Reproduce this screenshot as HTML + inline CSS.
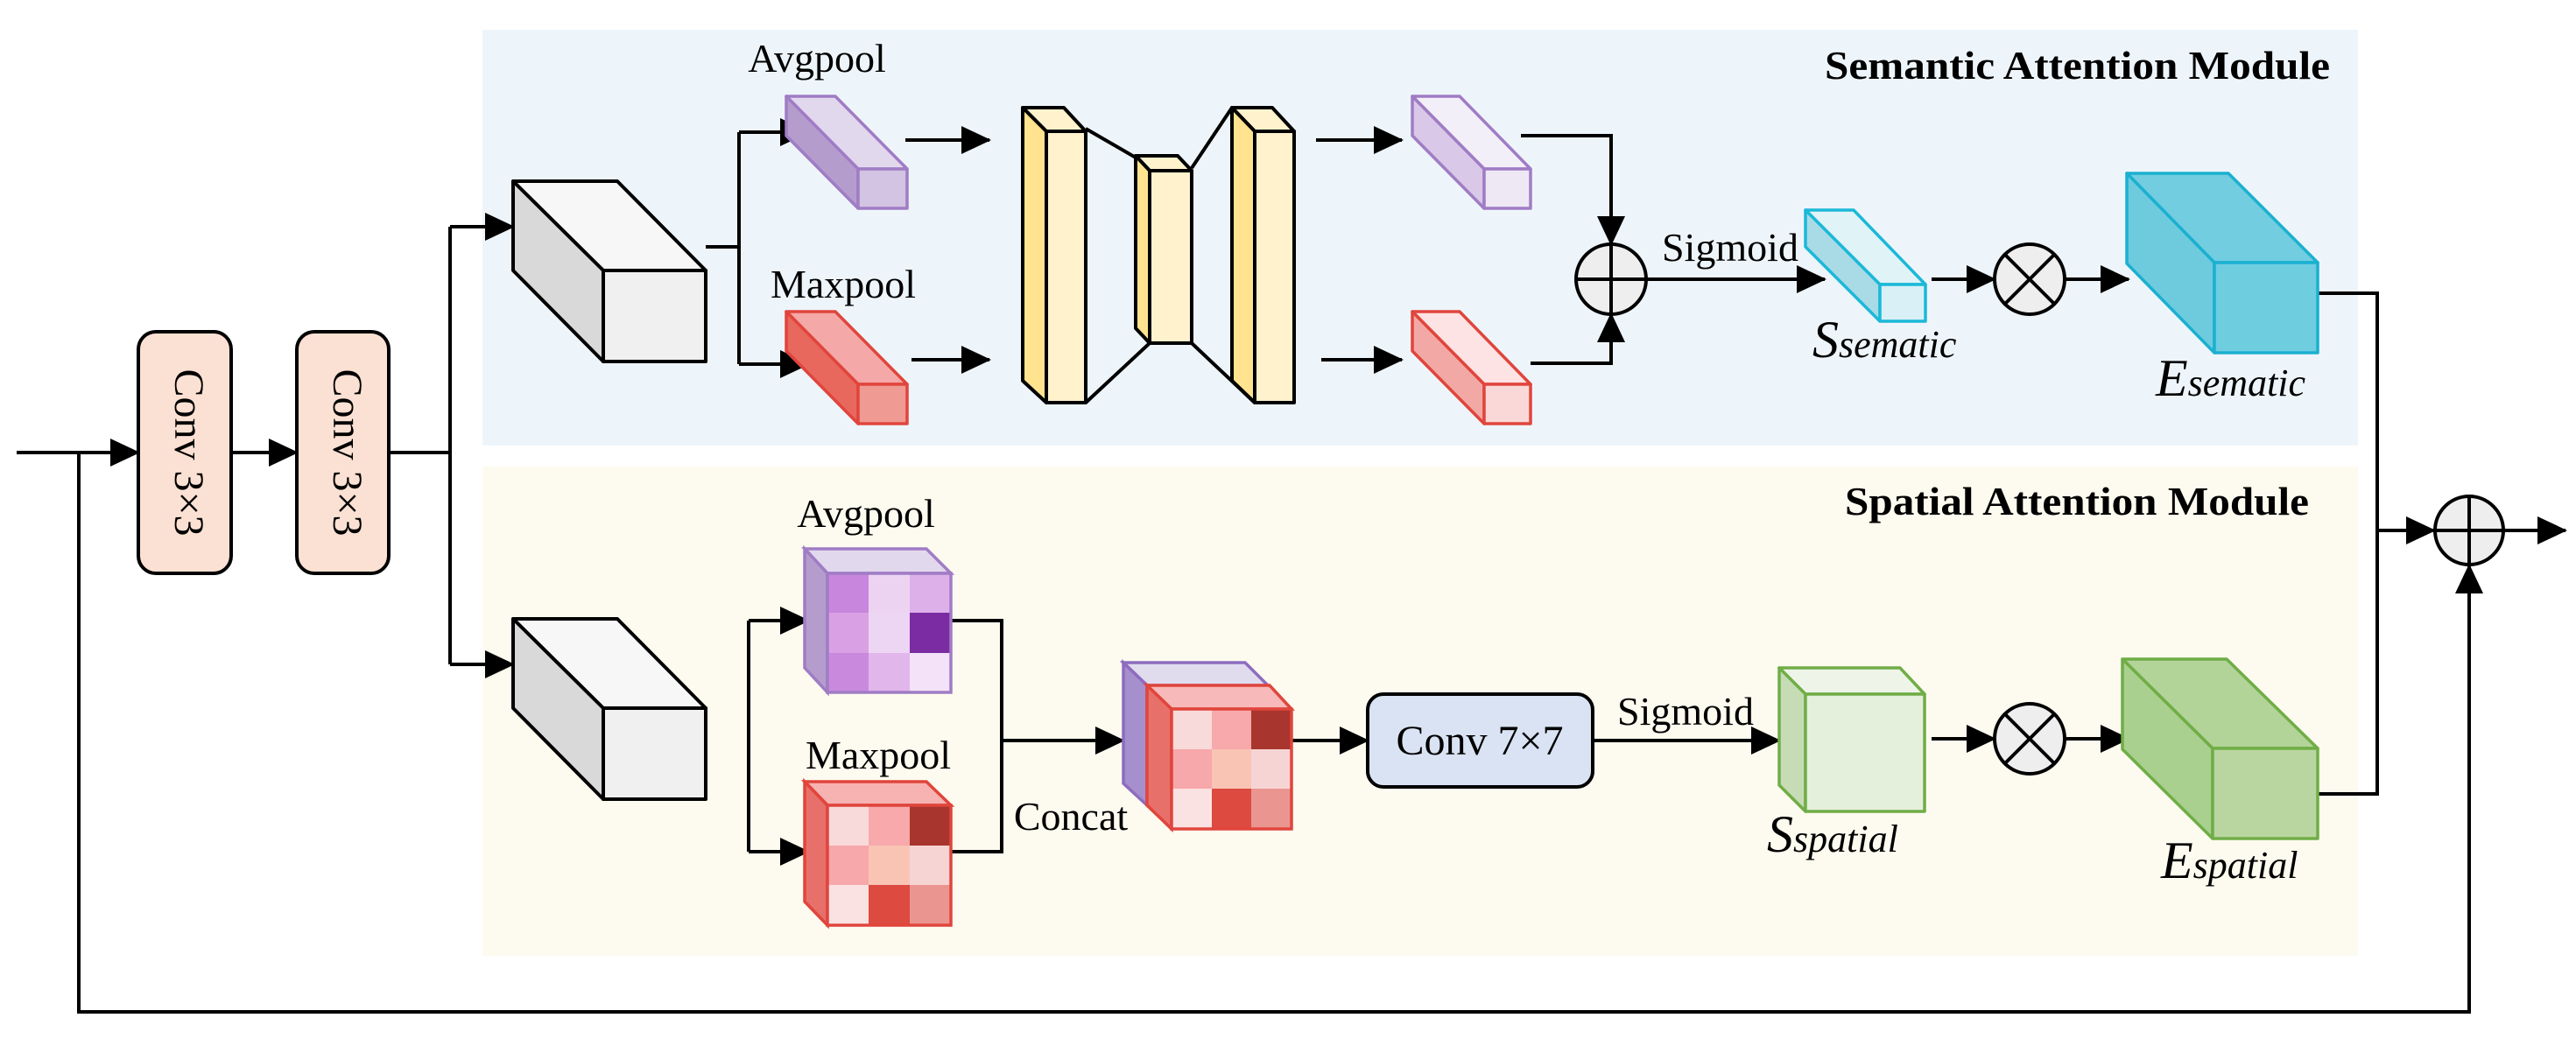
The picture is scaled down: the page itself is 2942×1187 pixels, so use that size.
<!DOCTYPE html>
<html><head><meta charset="utf-8"><style>
html,body{margin:0;padding:0;background:#fff}
svg{display:block}
text{font-family:"Liberation Serif","Times New Roman",serif;fill:#000}
</style></head><body>
<svg width="2942" height="1187" viewBox="0 0 2942 1187" xmlns="http://www.w3.org/2000/svg" font-family="'Liberation Serif', 'Times New Roman', serif">
<defs>
<marker id="a" markerUnits="userSpaceOnUse" markerWidth="34" markerHeight="32" refX="32" refY="16" orient="auto">
<path d="M0,0 L34,16 L0,32 Z" fill="#000"/>
</marker>
</defs>
<rect x="551" y="34" width="2142" height="475" fill="#eef5fa"/>
<rect x="551" y="533" width="2142" height="559" fill="#fdfbef"/>
<text x="2661" y="90" font-size="46" font-weight="bold" text-anchor="end" textLength="577" lengthAdjust="spacingAndGlyphs">Semantic Attention Module</text>
<text x="2637" y="588" font-size="46" font-weight="bold" text-anchor="end" textLength="530" lengthAdjust="spacingAndGlyphs">Spatial Attention Module</text>

<g stroke="#000" stroke-width="4" fill="none">
<line x1="19" y1="517" x2="158" y2="517" marker-end="url(#a)"/>
<line x1="264" y1="517" x2="339" y2="517" marker-end="url(#a)"/>
<polyline points="444,517 514,517"/>
<polyline points="514,259 514,759"/>
<line x1="514" y1="259" x2="586" y2="259" marker-end="url(#a)"/>
<line x1="514" y1="759" x2="586" y2="759" marker-end="url(#a)"/>
<polyline points="90,517 90,1156 2820,1156 2820,646" marker-end="url(#a)"/>
<polyline points="806,282 844,282"/>
<polyline points="844,151 844,416"/>
<line x1="844" y1="151" x2="923" y2="151" marker-end="url(#a)"/>
<line x1="844" y1="416" x2="923" y2="416" marker-end="url(#a)"/>
<line x1="1034" y1="160" x2="1130" y2="160" marker-end="url(#a)"/>
<line x1="1041" y1="411" x2="1130" y2="411" marker-end="url(#a)"/>
<line x1="1503" y1="160" x2="1601" y2="160" marker-end="url(#a)"/>
<line x1="1509" y1="411" x2="1601" y2="411" marker-end="url(#a)"/>
<polyline points="1737,155 1840,155 1840,279" marker-end="url(#a)"/>
<polyline points="1748,415 1840,415 1840,359" marker-end="url(#a)"/>
<line x1="1880" y1="319" x2="2084" y2="319" marker-end="url(#a)"/>
<line x1="2206" y1="319" x2="2278" y2="319" marker-end="url(#a)"/>
<line x1="2359" y1="319" x2="2431" y2="319" marker-end="url(#a)"/>
<polyline points="2647,335 2715,335 2715,907 2647,907"/>
<line x1="2715" y1="606" x2="2780" y2="606" marker-end="url(#a)"/>
<line x1="2859" y1="606" x2="2930" y2="606" marker-end="url(#a)"/>
<polyline points="855,709 855,973"/>
<line x1="855" y1="709" x2="923" y2="709" marker-end="url(#a)"/>
<line x1="855" y1="973" x2="923" y2="973" marker-end="url(#a)"/>
<polyline points="1086,709 1144,709 1144,973 1086,973"/>
<line x1="1144" y1="846" x2="1283" y2="846" marker-end="url(#a)"/>
<line x1="1475" y1="846" x2="1562" y2="846" marker-end="url(#a)"/>
<line x1="1819" y1="846" x2="2032" y2="846" marker-end="url(#a)"/>
<line x1="2206" y1="844" x2="2278" y2="844" marker-end="url(#a)"/>
<line x1="2359" y1="844" x2="2431" y2="844" marker-end="url(#a)"/>
</g>

<rect x="158" y="379" width="106" height="276" rx="20" fill="#fbe1d3" stroke="#000" stroke-width="4"/>
<rect x="339" y="379" width="105" height="276" rx="20" fill="#fbe1d3" stroke="#000" stroke-width="4"/>
<text transform="translate(211,517) rotate(90)" font-size="48" text-anchor="middle" dominant-baseline="middle">Conv 3×3</text>
<text transform="translate(392,517) rotate(90)" font-size="48" text-anchor="middle" dominant-baseline="middle">Conv 3×3</text>

<g stroke="#000" stroke-width="4" stroke-linejoin="round">
<polygon points="586,207 705,207 806,309 689,309" fill="#f7f7f7"/>
<polygon points="586,207 689,309 689,413 586,309" fill="#d9d9d9"/>
<rect x="689" y="309" width="117" height="104" fill="#f0f0f0"/>
<polygon points="586,707 705,707 806,809 689,809" fill="#f7f7f7"/>
<polygon points="586,707 689,809 689,913 586,809" fill="#d9d9d9"/>
<rect x="689" y="809" width="117" height="104" fill="#f0f0f0"/>
</g>

<g stroke-width="3.5" stroke-linejoin="round">
<polygon points="898,110 954,110 1036,193 980,193" fill="#e2d8ee" stroke="#a07cc5"/>
<polygon points="898,110 980,193 980,238 898,155" fill="#b49dcc" stroke="#a07cc5"/>
<rect x="980" y="193" width="56" height="45" fill="#d2c4e2" stroke="#a07cc5"/>
<polygon points="898,356 954,356 1036,439 980,439" fill="#f4a8a8" stroke="#e0453c"/>
<polygon points="898,356 980,439 980,484 898,401" fill="#e8685e" stroke="#e0453c"/>
<rect x="980" y="439" width="56" height="45" fill="#ef9a93" stroke="#e0453c"/>

<polygon points="1613,110 1667,110 1748,193 1695,193" fill="#f3eff8" stroke="#a07cc5"/>
<polygon points="1613,110 1695,193 1695,238 1613,155" fill="#d9c8e8" stroke="#a07cc5"/>
<rect x="1695" y="193" width="53" height="45" fill="#eee8f4" stroke="#a07cc5"/>
<polygon points="1613,356 1667,356 1748,439 1695,439" fill="#fde3e3" stroke="#e0453c"/>
<polygon points="1613,356 1695,439 1695,484 1613,401" fill="#f2a9a6" stroke="#e0453c"/>
<rect x="1695" y="439" width="53" height="45" fill="#fbd8d8" stroke="#e0453c"/>

<polygon points="2062,240 2117,240 2199,325 2147,325" fill="#e0f3f7" stroke="#1bb8d8"/>
<polygon points="2062,240 2147,325 2147,367 2062,282" fill="#a8dbe6" stroke="#1bb8d8"/>
<rect x="2147" y="325" width="52" height="42" fill="#d8f0f6" stroke="#1bb8d8"/>

<polygon points="2429,198 2545,198 2647,300 2529,300" fill="#72cde0" stroke="#1bb0d0"/>
<polygon points="2429,198 2529,300 2529,403 2429,301" fill="#6ecbde" stroke="#1bb0d0"/>
<rect x="2529" y="300" width="118" height="103" fill="#6fcde0" stroke="#1bb0d0"/>

<polygon points="2424,753 2543,753 2647,855 2527,855" fill="#b2d498" stroke="#70ad47"/>
<polygon points="2424,753 2527,855 2527,958 2424,856" fill="#a9d08e" stroke="#70ad47"/>
<rect x="2527" y="855" width="120" height="103" fill="#bad6a0" stroke="#70ad47"/>

<polygon points="2032,763 2170,763 2198,793 2062,793" fill="#eef5e8" stroke="#70ad47"/>
<polygon points="2032,763 2062,793 2062,927 2032,897" fill="#c6dcb4" stroke="#70ad47"/>
<rect x="2062" y="793" width="136" height="134" fill="#e5f0dc" stroke="#70ad47"/>
</g>

<g stroke="#000" stroke-width="4" stroke-linejoin="round">
<polyline points="1240,147 1297,180" fill="none"/>
<polyline points="1240,460 1313,392" fill="none"/>
<polyline points="1361,192 1407,123" fill="none"/>
<polyline points="1361,392 1433,460" fill="none"/>
<polygon points="1168,123 1215,123 1240,150 1195,150" fill="#fff2cc"/>
<polygon points="1168,123 1195,150 1195,460 1168,435" fill="#ffe38f"/>
<rect x="1195" y="150" width="45" height="310" fill="#fff2cc"/>
<polygon points="1297,178 1345,178 1361,195 1313,195" fill="#fff2cc"/>
<polygon points="1297,178 1313,195 1313,392 1297,375" fill="#ffe38f"/>
<rect x="1313" y="195" width="48" height="197" fill="#fff2cc"/>
<polygon points="1407,123 1453,123 1478,150 1433,150" fill="#fff2cc"/>
<polygon points="1407,123 1433,150 1433,460 1407,435" fill="#ffe38f"/>
<rect x="1433" y="150" width="45" height="310" fill="#fff2cc"/>
</g>

<g stroke-width="3.5">
<polygon points="919,627 1058,627 1086,655 945,655" fill="#e2d8ee" stroke="#a07cc5"/>
<polygon points="919,627 945,655 945,791 919,763" fill="#b49dcc" stroke="#a07cc5"/>
<rect x="945" y="655" width="47" height="45" fill="#c887dc"/><rect x="992" y="655" width="47" height="45" fill="#ecd3f2"/><rect x="1039" y="655" width="47" height="45" fill="#ddb0ea"/>
<rect x="945" y="700" width="47" height="46" fill="#d9a0e4"/><rect x="992" y="700" width="47" height="46" fill="#edd6f3"/><rect x="1039" y="700" width="47" height="46" fill="#7b2ca3"/>
<rect x="945" y="746" width="47" height="45" fill="#c98ade"/><rect x="992" y="746" width="47" height="45" fill="#e1b6eb"/><rect x="1039" y="746" width="47" height="45" fill="#f3e2f8"/>
<rect x="945" y="655" width="141" height="136" fill="none" stroke="#a07cc5"/>

<polygon points="919,893 1058,893 1086,920 945,920" fill="#f7b2b2" stroke="#e0453c"/>
<polygon points="919,893 945,920 945,1057 919,1030" fill="#e8706a" stroke="#e0453c"/>
<rect x="945" y="920" width="47" height="46" fill="#f9dada"/><rect x="992" y="920" width="47" height="46" fill="#f7a9ab"/><rect x="1039" y="920" width="47" height="46" fill="#a8352e"/>
<rect x="945" y="966" width="47" height="45" fill="#f7a8aa"/><rect x="992" y="966" width="47" height="45" fill="#f9c4b4"/><rect x="1039" y="966" width="47" height="45" fill="#f7d4d4"/>
<rect x="945" y="1011" width="47" height="46" fill="#fbe2e2"/><rect x="992" y="1011" width="47" height="46" fill="#dc4a40"/><rect x="1039" y="1011" width="47" height="46" fill="#eb9590"/>
<rect x="945" y="920" width="141" height="137" fill="none" stroke="#e0453c"/>

<polygon points="1283,757 1422,757 1448,783 1310,783" fill="#e0dcee" stroke="#8e6cc0"/>
<polygon points="1283,757 1310,783 1310,920 1283,895" fill="#a58fcc" stroke="#8e6cc0"/>
<polygon points="1310,783 1450,783 1475,810 1338,810" fill="#f7b9b9" stroke="#e0453c"/>
<polygon points="1310,783 1338,810 1338,947 1310,920" fill="#e8706a" stroke="#e0453c"/>
<rect x="1338" y="810" width="46" height="46" fill="#f9dada"/><rect x="1384" y="810" width="45" height="46" fill="#f7a9ab"/><rect x="1429" y="810" width="46" height="46" fill="#a8352e"/>
<rect x="1338" y="856" width="46" height="45" fill="#f7a8aa"/><rect x="1384" y="856" width="45" height="45" fill="#f9c4b4"/><rect x="1429" y="856" width="46" height="45" fill="#f7d4d4"/>
<rect x="1338" y="901" width="46" height="46" fill="#fbe2e2"/><rect x="1384" y="901" width="45" height="46" fill="#dc4a40"/><rect x="1429" y="901" width="46" height="46" fill="#eb9590"/>
<rect x="1338" y="810" width="137" height="137" fill="none" stroke="#e0453c"/>
</g>

<rect x="1562" y="793" width="257" height="106" rx="18" fill="#dae3f3" stroke="#000" stroke-width="4"/>
<text x="1690" y="862" font-size="48" text-anchor="middle">Conv 7×7</text>

<g stroke="#000" stroke-width="4" fill="#eeeeee">
<circle cx="1840" cy="319" r="40"/>
<line x1="1800" y1="319" x2="1880" y2="319"/><line x1="1840" y1="279" x2="1840" y2="359"/>
<circle cx="2318" cy="319" r="40"/>
<line x1="2290" y1="291" x2="2346" y2="347"/><line x1="2346" y1="291" x2="2290" y2="347"/>
<circle cx="2318" cy="844" r="40"/>
<line x1="2290" y1="816" x2="2346" y2="872"/><line x1="2346" y1="816" x2="2290" y2="872"/>
<circle cx="2820" cy="606" r="39"/>
<line x1="2781" y1="606" x2="2859" y2="606"/><line x1="2820" y1="567" x2="2820" y2="645"/>
</g>

<g font-size="46">
<text x="933" y="82" text-anchor="middle">Avgpool</text>
<text x="963" y="340" text-anchor="middle">Maxpool</text>
<text x="989" y="602" text-anchor="middle">Avgpool</text>
<text x="1003" y="878" text-anchor="middle">Maxpool</text>
<text x="1223" y="948" text-anchor="middle">Concat</text>
<text x="1976" y="298" text-anchor="middle">Sigmoid</text>
<text x="1925" y="828" text-anchor="middle">Sigmoid</text>
</g>
<g font-style="italic">
<text x="2070" y="408"><tspan font-size="60">S</tspan><tspan font-size="44">sematic</tspan></text>
<text x="2462" y="452"><tspan font-size="60">E</tspan><tspan font-size="44">sematic</tspan></text>
<text x="2018" y="973"><tspan font-size="60">S</tspan><tspan font-size="44">spatial</tspan></text>
<text x="2468" y="1003"><tspan font-size="60">E</tspan><tspan font-size="44">spatial</tspan></text>
</g>
</svg>
</body></html>
